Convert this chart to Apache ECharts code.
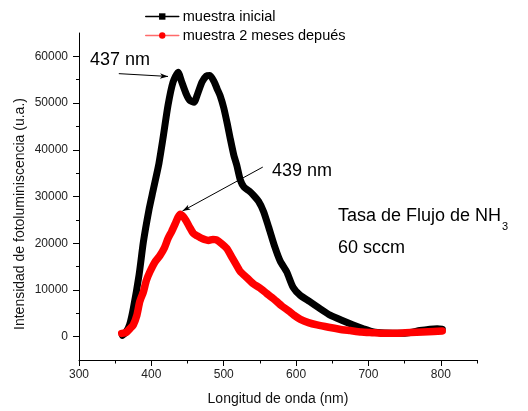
<!DOCTYPE html>
<html>
<head>
<meta charset="utf-8">
<script src="https://cdn.jsdelivr.net/npm/echarts@6/dist/echarts.min.js"></script>
<style>html,body{margin:0;padding:0;background:#fff;}#c{width:528px;height:411px;}</style>
</head>
<body>
<div id="c"></div>
<script>
// ---- data ----
const seriesNames = ['muestra inicial', 'muestra 2 meses depués'];
const waveBlack = [360,365,370,375,383,389,397,402,410,416,423,430,437,442,448,453,459,464,470,476,481,487,491,495,500,505,509,514,518,523,528,535,541,548,555,562,570,578,587,596,606,619,633,647,663,679,693,707,722,744,758,771,785,795,802];
const intBlack  = [300,1000,2600,6000,13200,20300,27400,31000,36700,42400,49500,54500,56600,54500,52000,50600,50200,52000,54500,55800,55900,54500,53000,51600,49000,45500,42400,38800,36700,33500,32000,31200,30300,29000,26800,23500,19500,16200,13900,10500,8800,7500,6000,4600,3500,2500,1700,1000,800,700,900,1300,1600,1700,1600];
const waveRed   = [359,363,366,371,375,380,384,389,393,398,405,412,418,423,428,433,437,440,444,448,453,458,463,470,479,485,490,497,504,512,518,523,532,541,550,559,569,580,590,597,606,617,629,645,660,675,690,705,721,740,758,775,790,802];
const intRed    = [700,800,1000,1800,2500,4600,7500,9600,12000,13900,16000,17400,19000,21000,22500,24200,25600,26200,25700,24800,23400,22100,21600,21000,20600,20800,20700,19900,18900,16800,15200,13900,12600,11300,10400,9300,8100,6600,5500,4600,3700,3000,2500,2000,1600,1300,1000,850,700,750,900,1000,1100,1200];
const xMajorTicks = [300,400,500,600,700,800];
const xMinorTicks = [350,450,550,650,750,850];
const yMajorTicks = [0,10000,20000,30000,40000,50000,60000];
const yMinorTicks = [5000,15000,25000,35000,45000,55000];
const arrow437 = [[355, 56300], [423, 55700]];
const arrow439 = [[554, 36300], [443, 26900]];
const labelTexts = ['437 nm', '439 nm', 'Tasa de Flujo de NH', '3', '60 sccm'];
const axisTitles = ['Longitud de onda (nm)', 'Intensidad de fotoluminiscencia (u.a.)'];

const zip = (a, b) => a.map((v, i) => [v, b[i]]);
const FF = '"Liberation Sans", Arial, sans-serif';

const chart = echarts.init(document.getElementById('c'), null, {renderer: 'canvas'});

const cv = document.createElement('canvas').getContext('2d');
cv.font = '18px ' + FF;
const tasaW = cv.measureText(labelTexts[2]).width;

const baseAxis = {type: 'value', min: 300, max: 850};

chart.setOption({
  animation: false,
  backgroundColor: '#fff',
  grid: {left: 79, right: 51, top: 33, bottom: 49, containLabel: false},
  legend: {
    orient: 'vertical', left: 145, top: 9, padding: 0,
    itemWidth: 33, itemHeight: 8, itemGap: 4,
    textStyle: {fontFamily: FF, fontSize: 14.5, color: '#000', padding: [0, 0, 0, -1]},
    data: [
      {name: seriesNames[0], itemStyle: {color: '#000'}, lineStyle: {color: '#000', width: 1.5}},
      {name: seriesNames[1], itemStyle: {color: '#f00'}, lineStyle: {color: '#ff6a6a', width: 1.5}}
    ]
  },
  xAxis: [
    Object.assign({}, baseAxis, {
      position: 'bottom',
      axisLine: {show: true, onZero: false, lineStyle: {color: '#000', width: 1}},
      axisTick: {show: true, customValues: xMajorTicks, length: 6, lineStyle: {color: '#000'}},
      axisLabel: {customValues: xMajorTicks, margin: 9, fontFamily: FF, fontSize: 12, color: '#222',
                  formatter: v => String(v)},
      splitLine: {show: false},
      name: axisTitles[0], nameLocation: 'middle', nameGap: 32,
      nameTextStyle: {fontFamily: FF, fontSize: 14, color: '#111'}
    }),
    Object.assign({}, baseAxis, {
      position: 'bottom',
      axisLine: {show: false, onZero: false},
      axisTick: {show: true, customValues: xMinorTicks, length: 3.5, lineStyle: {color: '#000'}},
      axisLabel: {show: false},
      splitLine: {show: false}
    })
  ],
  yAxis: [
    {
      type: 'value', min: -5000, max: 65000, position: 'left',
      axisLine: {show: true, onZero: false, lineStyle: {color: '#000', width: 1}},
      axisTick: {show: true, customValues: yMajorTicks, length: 6, lineStyle: {color: '#000'}},
      axisLabel: {customValues: yMajorTicks, margin: 11, fontFamily: FF, fontSize: 12, color: '#222',
                  formatter: v => String(v)},
      splitLine: {show: false}
    },
    {
      type: 'value', min: -5000, max: 65000, position: 'left',
      axisLine: {show: false, onZero: false},
      axisTick: {show: true, customValues: yMinorTicks, length: 3, lineStyle: {color: '#000'}},
      axisLabel: {show: false},
      splitLine: {show: false}
    }
  ],
  series: [
    {
      name: seriesNames[0], type: 'line', xAxisIndex: 0, yAxisIndex: 0,
      data: zip(waveBlack, intBlack),
      symbol: 'rect', symbolSize: 7, showSymbol: false, smooth: 0.2,
      itemStyle: {color: '#000'},
      lineStyle: {color: '#000', width: 7, cap: 'round', join: 'round'},
      markLine: {
        silent: true, animation: false,
        symbol: ['none', 'arrow'], symbolSize: [4, 8],
        label: {show: false},
        lineStyle: {color: '#000', width: 1, type: 'solid'},
        emphasis: {disabled: true},
        data: [
          [{coord: arrow437[0]}, {coord: arrow437[1]}],
          [{coord: arrow439[0]}, {coord: arrow439[1]}]
        ]
      }
    },
    {
      name: seriesNames[1], type: 'line', xAxisIndex: 0, yAxisIndex: 0,
      data: zip(waveRed, intRed),
      symbol: 'circle', symbolSize: 7, showSymbol: false, smooth: 0.2,
      itemStyle: {color: '#f00'},
      lineStyle: {color: '#f00', width: 7.5, cap: 'round', join: 'round'}
    }
  ],
  graphic: [
    {type: 'text', x: 90, y: 60, silent: true,
     style: {text: labelTexts[0], font: '18px ' + FF, fill: '#000', align: 'left', verticalAlign: 'middle'}},
    {type: 'text', x: 272, y: 171, silent: true,
     style: {text: labelTexts[1], font: '18px ' + FF, fill: '#000', align: 'left', verticalAlign: 'middle'}},
    {type: 'text', x: 338, y: 216, silent: true,
     style: {text: labelTexts[2], font: '18px ' + FF, fill: '#000', align: 'left', verticalAlign: 'middle'}},
    {type: 'text', x: 338 + tasaW + 1, y: 227, silent: true,
     style: {text: labelTexts[3], font: '11px ' + FF, fill: '#000', align: 'left', verticalAlign: 'middle'}},
    {type: 'text', x: 338, y: 248, silent: true,
     style: {text: labelTexts[4], font: '18px ' + FF, fill: '#000', align: 'left', verticalAlign: 'middle'}},
    {type: 'text', x: 20, y: 214, rotation: Math.PI / 2, silent: true,
     style: {text: axisTitles[1], font: '14px ' + FF, fill: '#111', align: 'center', verticalAlign: 'middle'}}
  ]
});
</script>
</body>
</html>
